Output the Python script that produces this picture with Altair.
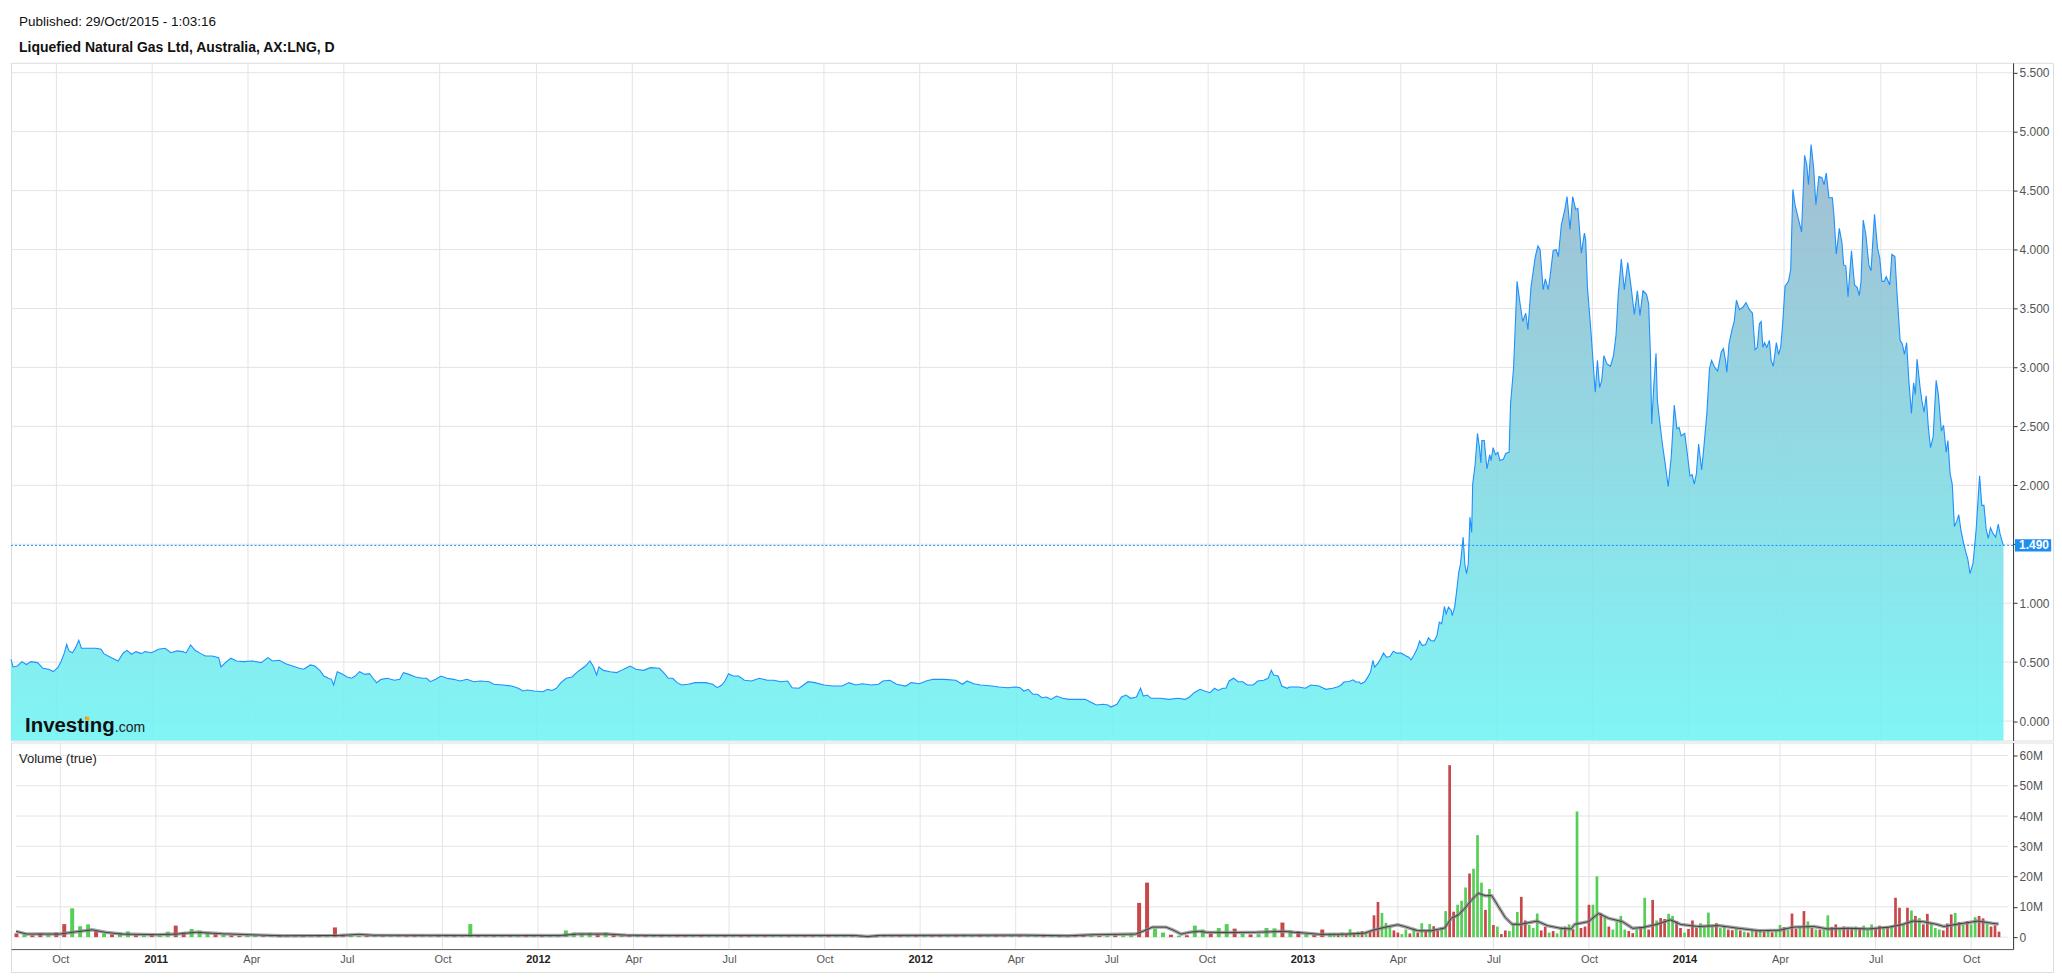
import altair as alt
import pandas as pd

# ---------------- text ----------------
published_text = "Published: 29/Oct/2015 - 1:03:16"
title_text = "Liquefied Natural Gas Ltd, Australia, AX:LNG, D"
volume_text = "Volume (true)"
logo_main = "Investing"
logo_suffix = ".com"

# ---------------- axes ----------------
tick_months = [0, 3, 6, 9, 12, 15, 18, 21, 24, 27, 30, 33, 36, 39, 42, 45, 48, 51, 54, 57, 60]
tick_labels = ["Oct", "2011", "Apr", "Jul", "Oct", "2012", "Apr", "Jul", "Oct", "2012", "Apr",
               "Jul", "Oct", "2013", "Apr", "Jul", "Oct", "2014", "Apr", "Jul", "Oct"]
price_ticks = [0.0, 0.5, 1.0, 1.5, 2.0, 2.5, 3.0, 3.5, 4.0, 4.5, 5.0, 5.5]
vol_ticks = [0, 10, 20, 30, 40, 50, 60]
last_price = 1.49

# ---------------- price (month index, close) ----------------
price_month = [
    -1.39, -1.327, -1.188, -1.048, -0.908, -0.769, -0.559, -0.391, -0.210, -0.070, 0.070, 0.182, 0.279, 0.349,
    0.419, 0.531, 0.629, 0.727, 0.810, 0.978, 1.258, 1.425, 1.509, 1.747, 1.956, 2.124, 2.236, 2.375, 2.515,
    2.683, 2.795, 3.004, 3.214, 3.423, 3.605, 3.801, 3.982, 4.080, 4.220, 4.360, 4.541, 4.681, 4.891, 5.100,
    5.170, 5.310, 5.477, 5.659, 5.869, 6.148, 6.428, 6.637, 6.777, 6.987, 7.196, 7.406, 7.615, 7.755, 7.965,
    8.104, 8.272, 8.384, 8.523, 8.621, 8.691, 8.803, 8.943, 9.110, 9.250, 9.362, 9.502, 9.669, 9.809, 9.921,
    10.033, 10.172, 10.368, 10.591, 10.759, 10.871, 11.039, 11.248, 11.458, 11.598, 11.709, 11.877, 12.045,
    12.226, 12.436, 12.646, 12.855, 13.065, 13.274, 13.554, 13.694, 13.973, 14.252, 14.462, 14.602, 14.742,
    14.951, 15.231, 15.370, 15.510, 15.650, 15.790, 15.957, 16.139, 16.278, 16.418, 16.558, 16.698, 16.796,
    16.907, 16.977, 17.117, 17.327, 17.536, 17.676, 17.816, 17.955, 18.137, 18.375, 18.584, 18.864, 19.003,
    19.143, 19.283, 19.422, 19.562, 19.772, 19.982,
    20.319, 20.532, 20.674, 20.816, 20.915, 21.028, 21.170, 21.341, 21.525, 21.738, 21.993, 22.235, 22.447,
    22.660, 22.873, 23.015, 23.228, 23.327, 23.512, 23.725, 24.008, 24.292, 24.576, 24.789, 25.002, 25.215,
    25.499, 25.711, 25.853, 26.066, 26.279, 26.563, 26.733, 26.989, 27.201, 27.414, 27.769, 28.124, 28.337,
    28.479, 28.692, 28.904, 29.259, 29.472, 29.756, 29.969, 30.139, 30.253, 30.395, 30.537, 30.678, 30.820,
    30.962, 31.104, 31.274, 31.459, 31.672, 31.955, 32.168, 32.381, 32.523, 32.736, 32.878, 32.977, 33.162,
    33.304, 33.446, 33.588, 33.772, 33.900, 33.985, 34.113, 34.226, 34.510, 34.794, 35.078, 35.290, 35.432,
    35.574, 35.759, 35.901, 36.071, 36.213, 36.326, 36.468, 36.568, 36.667, 36.809, 36.951, 37.093, 37.235,
    37.419, 37.561, 37.745, 37.887, 37.986, 38.057, 38.199, 38.313, 38.483, 38.554, 38.838, 39.051, 39.221,
    39.476, 39.689, 39.902, 40.044,
    40.149, 40.255, 40.415, 40.543, 40.628, 40.734, 40.787, 40.894, 41.000, 41.085, 41.160, 41.213, 41.319,
    41.404, 41.489, 41.585, 41.691, 41.798, 41.904, 42.043, 42.170, 42.277, 42.351, 42.436, 42.543, 42.617,
    42.702, 42.808, 42.894, 42.968, 43.074, 43.160, 43.234, 43.309, 43.394, 43.447, 43.521, 43.606, 43.638,
    43.713, 43.766, 43.840, 43.894, 43.979, 44.032, 44.085, 44.138, 44.191, 44.245, 44.277, 44.351, 44.426,
    44.489, 44.532, 44.564, 44.638, 44.723, 44.809, 44.851, 44.915, 44.989, 45.064, 45.128, 45.234, 45.308,
    45.415,
    45.460, 45.555, 45.663, 45.758, 45.840, 45.935, 46.003, 46.098, 46.233, 46.315, 46.383, 46.478, 46.545,
    46.640, 46.708, 46.790, 46.885, 46.953, 47.047, 47.156, 47.224, 47.319, 47.400, 47.495, 47.563, 47.672,
    47.767, 47.807, 47.862, 47.970, 48.106, 48.174, 48.242, 48.309, 48.377, 48.472, 48.581, 48.676, 48.757,
    48.825, 48.920, 49.015, 49.123, 49.218, 49.327, 49.422, 49.503, 49.598, 49.707, 49.775, 49.829, 49.870,
    49.938, 50.005, 50.046, 50.141, 50.209, 50.277, 50.385, 50.480, 50.575, 50.657, 50.725, 50.792, 50.901,
    50.982, 51.064, 51.132, 51.199, 51.267, 51.335, 51.430, 51.498, 51.593, 51.674, 51.742, 51.837, 51.932,
    52.041, 52.109, 52.176, 52.217, 52.285, 52.380, 52.448, 52.516, 52.611, 52.719, 52.814, 52.923, 53.018,
    53.099, 53.167, 53.235, 53.289, 53.343, 53.397, 53.465, 53.547, 53.601, 53.669, 53.764, 53.832, 53.900,
    53.967, 54.035, 54.144, 54.212, 54.280, 54.348, 54.443, 54.551, 54.646, 54.714, 54.768, 54.849, 54.931,
    54.999, 55.094, 55.189, 55.257, 55.324, 55.406, 55.514, 55.569, 55.636, 55.731, 55.813, 55.867, 55.935,
    56.003, 56.111, 56.206, 56.288, 56.355, 56.410, 56.478, 56.559, 56.654, 56.722, 56.831, 56.926, 56.994,
    57.061, 57.129, 57.197, 57.306, 57.374, 57.468, 57.536, 57.631, 57.699, 57.767, 57.835, 57.903, 57.984,
    58.052, 58.106, 58.160, 58.255, 58.309, 58.377, 58.445, 58.513, 58.581, 58.662, 58.757, 58.825, 58.920,
    58.988, 59.069, 59.124, 59.192, 59.259, 59.327, 59.408, 59.463, 59.531, 59.612, 59.707, 59.748, 59.815,
    59.910, 60.005, 60.114, 60.182, 60.250, 60.318, 60.385, 60.453, 60.535, 60.616, 60.697, 60.752, 60.833,
    60.860,
]
price_value = [
    0.524, 0.459, 0.467, 0.504, 0.48, 0.504, 0.496, 0.448, 0.44, 0.42, 0.453, 0.51, 0.58, 0.65,
    0.595, 0.58, 0.623, 0.686, 0.618, 0.618, 0.618, 0.609, 0.572, 0.538, 0.51, 0.58, 0.6, 0.567, 0.589,
    0.572, 0.589, 0.58, 0.609, 0.618, 0.58, 0.595, 0.589, 0.578, 0.646, 0.6, 0.572, 0.552, 0.552, 0.538,
    0.459, 0.496, 0.533, 0.51, 0.504, 0.51, 0.496, 0.538, 0.51, 0.516, 0.487, 0.467, 0.448, 0.44, 0.476,
    0.467, 0.425, 0.382, 0.363, 0.354, 0.306, 0.419, 0.402, 0.374, 0.363, 0.382, 0.419, 0.396, 0.402, 0.363,
    0.326, 0.354, 0.363, 0.346, 0.354, 0.411, 0.396, 0.374, 0.363, 0.363, 0.334, 0.354, 0.382,
    0.363, 0.354, 0.34, 0.354, 0.334, 0.34, 0.334, 0.312, 0.306, 0.297, 0.278, 0.255, 0.263,
    0.255, 0.249, 0.269, 0.26, 0.278, 0.326, 0.363, 0.374, 0.411, 0.44, 0.467, 0.51, 0.467,
    0.391, 0.459, 0.43, 0.419, 0.411, 0.43, 0.448, 0.467, 0.44, 0.43, 0.453, 0.448, 0.411,
    0.363, 0.363, 0.326, 0.306, 0.312, 0.326,
    0.326, 0.312, 0.283, 0.306, 0.34, 0.402, 0.382, 0.382, 0.346, 0.34, 0.363, 0.346, 0.346,
    0.334, 0.34, 0.283, 0.278, 0.297, 0.334, 0.326, 0.306, 0.297, 0.297, 0.326, 0.306, 0.317,
    0.306, 0.312, 0.34, 0.346, 0.312, 0.297, 0.326, 0.317, 0.34, 0.354, 0.354, 0.346, 0.312,
    0.34, 0.317, 0.306, 0.297, 0.289, 0.283, 0.289, 0.283, 0.255, 0.269, 0.227, 0.227, 0.198,
    0.204, 0.184, 0.212, 0.193, 0.184, 0.184, 0.184, 0.156, 0.136, 0.142, 0.136, 0.119, 0.142,
    0.204, 0.221, 0.193, 0.204, 0.278, 0.212, 0.221, 0.193, 0.193, 0.184, 0.193, 0.184, 0.204,
    0.241, 0.269, 0.255, 0.241, 0.278, 0.26, 0.278, 0.278, 0.34, 0.363, 0.334, 0.334, 0.306,
    0.306, 0.34, 0.346, 0.363, 0.43, 0.391, 0.382, 0.297, 0.278, 0.289, 0.289, 0.278, 0.306,
    0.297, 0.269, 0.278, 0.289,
    0.302, 0.331, 0.336, 0.35, 0.331, 0.331, 0.316, 0.331, 0.373, 0.415, 0.514, 0.458, 0.492,
    0.528, 0.576, 0.542, 0.548, 0.593, 0.576, 0.576, 0.556, 0.542, 0.52, 0.556, 0.613, 0.678,
    0.641, 0.65, 0.706, 0.684, 0.678, 0.726, 0.839, 0.825, 0.972, 0.91, 0.966, 0.938, 0.895,
    0.966, 1.08, 1.26, 1.33, 1.56, 1.33, 1.25, 1.33, 1.73, 1.60, 2.01, 2.17, 2.44,
    2.32, 2.19, 2.38, 2.38, 2.14, 2.26, 2.21, 2.32, 2.26, 2.28, 2.21, 2.22, 2.27,
    2.28,
    2.69, 3.00, 3.73, 3.54, 3.39, 3.46, 3.32, 3.68, 3.94, 4.03, 4.00, 3.66, 3.75,
    3.66, 3.80, 3.99, 4.00, 3.94, 4.21, 4.34, 4.45, 4.17, 4.45, 4.34, 4.35, 3.97,
    4.14, 4.08, 3.68, 3.31, 2.79, 3.06, 2.83, 2.89, 3.10, 3.03, 3.01, 3.10, 3.28,
    3.62, 3.92, 3.66, 3.89, 3.70, 3.45, 3.65, 3.44, 3.65, 3.62, 3.54, 3.11, 2.52,
    2.86, 3.12, 2.72, 2.49, 2.34, 2.21, 1.99, 2.24, 2.68, 2.48, 2.49, 2.42, 2.44,
    2.27, 2.08, 2.09, 2.01, 2.10, 2.35, 2.13, 2.32, 2.61, 2.99, 3.06, 3.00, 2.97,
    3.13, 3.16, 3.06, 2.96, 3.20, 3.32, 3.39, 3.57, 3.49, 3.51, 3.55, 3.49, 3.46,
    3.15, 3.17, 3.37, 3.39, 3.17, 3.21, 3.17, 3.23, 3.06, 3.01, 3.21, 3.11, 3.17,
    3.39, 3.69, 3.73, 3.83, 4.51, 4.38, 4.27, 4.15, 4.80, 4.72, 4.55, 4.89, 4.69,
    4.38, 4.62, 4.61, 4.55, 4.65, 4.44, 4.44, 4.27, 3.96, 4.18, 4.06, 3.87, 3.86,
    3.60, 3.99, 3.70, 3.68, 3.61, 3.73, 4.25, 4.13, 3.87, 3.82, 4.30, 4.01, 3.93,
    3.73, 3.73, 3.77, 3.70, 3.96, 3.94, 3.62, 3.23, 3.20, 3.11, 3.21, 2.89, 2.61,
    2.87, 2.77, 3.07, 2.83, 2.72, 2.62, 2.76, 2.49, 2.32, 2.41, 2.89, 2.77, 2.46,
    2.51, 2.28, 2.38, 2.10, 2.01, 1.65, 1.70, 1.75, 1.62, 1.51, 1.41, 1.37, 1.25,
    1.34, 1.62, 2.08, 1.83, 1.83, 1.63, 1.55, 1.64, 1.59, 1.56, 1.67, 1.59, 1.51,
    1.49,
]

# ---------------- volume (millions), g = up day, r = down day ----------------
vol_early_start = -1.375
vol_early_step = 0.25
vol_early = [
    1.2, 0.9, 0.6, 1.3, 0.8, 1.5, 4.3, 9.5, 3.6, 4.2, 2.0, 1.2, 0.9, 1.5, 1.9, 0.7,
    0.6, 0.9, 0.5, 1.8, 3.8, 1.6, 2.7, 2.2, 1.4, 1.2, 0.8, 0.6, 0.4, 0.6, 0.5, 0.4,
    0.5, 0.7, 0.5, 0.6, 0.4, 0.5, 0.6, 0.5, 3.2, 0.8, 0.5, 0.4, 0.5, 0.6, 0.4, 0.5,
    0.6, 0.4, 0.5, 0.6, 0.4, 0.5, 0.6, 0.5, 0.5, 4.3, 0.6, 0.5, 0.4, 0.6, 0.5, 0.4,
    0.6, 0.5, 0.4, 0.6, 0.5, 2.2, 1.5, 1.2, 1.4, 1.0, 1.5, 0.8, 0.6, 0.5, 0.7, 0.5,
    0.6, 0.5, 0.4, 0.6, 0.5, 0.4, 0.6, 0.5, 0.4, 0.5, 0.5, 0.4, 0.6, 0.5, 0.4, 0.5,
    0.5, 0.4, 0.6, 0.5, 0.4, 0.5, 0.5, 0.6, 0.5, 0.4, 0.5, 0.4, 0.6, 0.5, 0.4, 0.5,
    0.4, 0.5, 0.6, 0.4, 0.5, 0.4, 0.5, 0.6, 0.4, 0.5, 0.4, 0.5, 0.3, 0.4, 0.5, 0.4,
    0.4, 0.6, 0.5, 0.4, 0.5, 0.4, 0.6, 0.5, 0.4, 0.5, 0.6, 0.5, 0.8, 11.3, 18.0, 2.8,
    1.5, 0.8, 0.5, 0.6, 3.8, 2.5, 1.2, 3.0, 4.3, 2.8, 1.2, 0.9, 1.0, 3.0, 2.9, 4.8,
    2.2, 2.0, 1.0, 0.8, 2.5, 1.2,
]
vol_early_dir = (
    "rgrr" "grrg" "ggrg" "rggr" "grgg" "rrgg" "grgr" "rggr" "grgg" "rgrg" "rrgg" "rgrg" "grrg"
    "grgr" "ggrg" "rgrg" "rgrg" "gggg" "grgr" "grgr" "grgr" "rgrg" "grgr" "rgrg" "grgr" "rgrg"
    "grgr" "rggr" "grgr" "rgrg" "grgr" "rgrg" "grgr" "grrg" "rgrg" "grrg" "grgr" "ggrg" "grgr"
    "gggr" "grgr" "rg"
)
vol_late_start = 40.0
vol_late_step = 0.125
vol_late = [
    1.2, 1.0, 1.5, 1.1, 2.6, 1.3, 1.8, 2.0,
    1.5, 1.8, 7.2, 11.6, 8.0, 4.7, 3.5, 2.2,
    1.5, 1.0, 2.5, 1.2, 2.8, 1.5, 4.6, 2.0,
    4.3, 3.6, 2.2, 3.2, 8.6, 56.8, 8.4, 10.7,
    12.0, 16.4, 21.0, 22.6, 33.7, 18.0, 9.0, 15.9,
    4.0, 3.5, 1.0, 2.2, 2.0, 4.4, 8.3, 13.3,
    5.5, 4.0, 3.0, 7.8, 2.2, 3.4, 1.5, 2.0,
    1.2, 3.3, 3.5, 4.2, 2.6, 41.5, 3.0, 3.5,
    10.7, 10.7, 20.1, 8.0, 6.5, 3.5, 2.5, 5.0,
    7.0, 2.5, 2.0, 1.3, 2.5, 3.2, 13.0, 2.5,
    12.3, 5.5, 6.3, 6.0, 7.7, 7.0, 5.3, 3.0,
    1.5, 2.7, 5.5, 3.0, 4.6, 3.5, 8.1, 3.8,
    4.6, 3.0, 3.5, 2.5, 2.3, 2.8, 2.2, 1.8,
    1.5, 2.4, 2.0, 2.5, 1.8, 2.2, 1.6, 2.0,
    4.0, 3.3, 2.3, 7.8, 2.8, 3.5, 8.6, 5.2,
    3.0, 2.5, 2.5, 2.5, 7.2, 3.4, 4.2, 2.8,
    3.5, 3.2, 3.2, 3.5, 3.0, 3.8, 2.5, 4.2,
    3.0, 3.8, 3.4, 3.5, 3.6, 13.0, 9.7, 4.0,
    9.7, 8.8, 7.0, 6.3, 4.2, 7.7, 4.4, 3.0,
    2.5, 2.2, 4.5, 7.5, 8.0, 5.0, 4.0, 5.3,
    4.2, 6.6, 7.0, 6.2, 4.3, 3.5, 3.9, 1.8,
]
vol_late_dir = (
    "grgrgrgr" "grrrgggr" "rggrgrgr" "grrggrrg" "ggrgggrg" "rgrrgggr" "rgggrrgr" "ggrgrgrr"
    "rggrgrgg" "ggrrgrgr" "rgrrggrr" "grrrgggg" "rggrrgrg" "rgrgrgrg" "grgrrgrg" "rgrggrrg"
    "rrrgrggg" "rrgrgrrg" "rgrgrrgg" "grrrgrgr" "ggrrgrrr"
)

# ---------------- volume moving average ----------------
ma_month = [
    -1.39, -1.043, -0.02, 0.389, 1.002, 1.411, 1.922, 3.047, 3.661, 4.274, 5.092, 5.910, 6.933, 8.773,
    9.387, 9.796, 12.659, 15.726, 16.237, 17.157, 17.771, 18.793, 24.929, 25.338, 25.747, 30.246,
    31.661, 32.399, 33.770, 34.033, 34.297, 34.719, 34.930, 35.193, 35.457, 35.773, 35.984, 36.722,
    37.566, 38.410, 38.726, 39.148, 39.570, 40.413, 40.940, 41.257, 41.573, 41.995, 42.206, 42.628,
    43.049, 43.471, 43.682, 43.893, 44.104, 44.315, 44.526, 44.737, 44.948, 45.158, 45.369, 45.580,
    45.830, 46.369, 46.691, 47.120, 47.442, 47.549, 47.979, 48.301, 48.623, 49.052, 49.374, 49.696,
    50.125, 50.554, 50.876, 51.413, 52.057, 52.701, 53.345, 53.989, 54.418, 55.062, 55.492, 56.136,
    56.780, 57.424, 57.853, 58.175, 58.497, 58.926, 59.141, 59.409, 59.785, 60.214, 60.643, 60.860,
]
ma_value = [
    1.9, 1.0, 1.0, 1.6, 2.4, 1.6, 1.0, 0.8, 1.0, 1.6, 1.1, 0.8, 0.45, 0.55,
    0.9, 0.65, 0.55, 0.55, 1.0, 1.0, 0.65, 0.55, 0.55, 0.2, 0.55, 0.65,
    0.44, 0.77, 1.0, 2.1, 3.3, 3.3, 2.4, 1.0, 1.6, 1.9, 1.6, 1.5,
    1.6, 1.9, 1.6, 1.3, 0.9, 1.0, 1.3, 2.4, 3.2, 4.1, 3.5, 2.1,
    2.1, 3.0, 6.3, 7.3, 9.5, 12.3, 14.5, 13.7, 13.7, 10.1, 6.5, 4.3,
    4.2, 5.3, 3.8, 2.9, 2.7, 4.2, 5.1, 7.8, 6.2, 5.1, 2.9, 3.2,
    4.2, 5.7, 4.2, 3.5, 3.8, 2.9, 2.1, 2.3, 3.3, 3.5, 2.7, 2.9,
    2.7, 3.3, 4.2, 5.3, 5.1, 4.2, 3.5, 4.0, 4.6, 5.3, 4.6, 4.3,
]

# ---------------- layout / style ----------------
FONT = "Arial, 'Liberation Sans', sans-serif"
W = 2046
H_HEAD, H_PRICE, H_VOL = 53, 679, 230
X_RANGE = 2006
V_RANGE = 207
X_MIN, X_AXIS = -1.39, 61.16
P_MIN, P_MAX = -0.165, 5.584
V_MIN, V_MAX = -3.96, 64.29
GRID = "#e4e4e4"
AXC = "#333333"
LBL = "#555555"
LINE = "#1e90ff"
GREEN, RED = "#55cf55", "#c8474a"

price_df = pd.DataFrame({"m": price_month, "v": price_value})
early_df = pd.DataFrame({
    "m": [vol_early_start + i * vol_early_step for i in range(len(vol_early))],
    "v": vol_early, "d": list(vol_early_dir)})
late_df = pd.DataFrame({
    "m": [vol_late_start + i * vol_late_step for i in range(len(vol_late))],
    "v": vol_late, "d": list(vol_late_dir)})
ma_df = pd.DataFrame({"m": ma_month, "v": ma_value})
ptick_df = pd.DataFrame({"v": price_ticks})
vtick_df = pd.DataFrame({"v": vol_ticks})
mtick_df = pd.DataFrame({"m": tick_months})
last_df = pd.DataFrame({"v": [last_price], "t": [f"{last_price:.3f}"]})

xs = alt.Scale(domain=[X_MIN, X_AXIS], range=[0, X_RANGE], nice=False, zero=False)
ys = alt.Scale(domain=[P_MIN, P_MAX], nice=False, zero=False)
vs = alt.Scale(domain=[V_MIN, V_MAX], range=[V_RANGE, 0], nice=False, zero=False)

label_expr = "[" + ",".join("'%s'" % s for s in tick_labels) + "][round(datum.value / 3)]"

# ---------------- header ----------------
head_a = alt.Chart(pd.DataFrame({"t": [published_text]})).mark_text(
    align="left", baseline="middle", fontSize=13.5, font=FONT, color="#111111"
).encode(x=alt.value(8), y=alt.value(13), text="t:N")
head_b = alt.Chart(pd.DataFrame({"t": [title_text]})).mark_text(
    align="left", baseline="middle", fontSize=14, fontWeight="bold", font=FONT, color="#111111"
).encode(x=alt.value(8), y=alt.value(39), text="t:N")
header = alt.layer(head_a, head_b).properties(
    width=W, height=H_HEAD, view=alt.ViewBackground(strokeOpacity=0))

# ---------------- price panel ----------------
x_price_axis = alt.Axis(values=tick_months, grid=True, gridColor=GRID, labels=False, ticks=False,
                        domain=False, title=None)
y_price_axis = alt.Axis(orient="right", offset=-40, values=price_ticks, tickCount=12, format=".3f",
                        grid=False, domainColor=AXC, tickColor=AXC, tickSize=4, labelColor=LBL,
                        labelFontSize=12, labelFont=FONT, labelPadding=2, labelOverlap=False, title=None)


def px(field="m"):
    return alt.X(field + ":Q", scale=xs, axis=x_price_axis, title=None)


def py(field="v"):
    return alt.Y(field + ":Q", scale=ys, axis=y_price_axis, title=None)


p_hgrid = alt.Chart(ptick_df).mark_rule(color=GRID, strokeWidth=1).encode(
    y=py(), x=alt.datum(X_MIN), x2=alt.datum(X_AXIS))
p_area = alt.Chart(price_df).mark_area(
    color=alt.Gradient(gradient="linear",
                       stops=[alt.GradientStop(color="#97b5cc", offset=0),
                              alt.GradientStop(color="#6ff4f4", offset=1)],
                       x1=0, x2=0, y1=0, y2=1),
    opacity=0.88
).encode(x=px(), y=py(), y2=alt.datum(P_MIN))
p_line = alt.Chart(price_df).mark_line(color=LINE, strokeWidth=1.1).encode(x=px(), y=py())
p_last = alt.Chart(last_df).mark_rule(color=LINE, strokeDash=[2, 2], strokeWidth=1).encode(
    y=py(), x=alt.datum(X_MIN), x2=alt.datum(X_AXIS))
p_tag = alt.Chart(last_df).transform_calculate(
    top="datum.v + 0.052", bot="datum.v - 0.052"
).mark_rect(color="#1b8ef2").encode(
    y=py("top"), y2="bot:Q",
    x=alt.datum(X_AXIS + 0.06), x2=alt.datum(X_AXIS + 1.19))
p_tagtext = alt.Chart(last_df).mark_text(
    align="left", baseline="middle", dx=6, fontSize=12, fontWeight="bold", font=FONT, color="white"
).encode(y=py(), x=alt.datum(X_AXIS), text="t:N")
logo_a = alt.Chart(pd.DataFrame({"t": [logo_main]})).mark_text(
    align="left", baseline="alphabetic", fontSize=20.5, fontWeight="bold", font=FONT, color="#111111"
).encode(x=alt.value(14), y=alt.value(670.7), text="t:N")
logo_b = alt.Chart(pd.DataFrame({"t": [logo_suffix]})).mark_text(
    align="left", baseline="alphabetic", fontSize=14, font=FONT, color="#222222"
).encode(x=alt.value(104), y=alt.value(670.7), text="t:N")
logo_c = alt.Chart(pd.DataFrame({"t": [logo_main]})).mark_square(
    color="#f5a623", size=16, opacity=1
).encode(x=alt.value(76.5), y=alt.value(657))

price_panel = alt.layer(p_hgrid, p_area, p_line, p_last, p_tag, p_tagtext, logo_a, logo_b, logo_c
                        ).properties(width=W, height=H_PRICE)

# ---------------- volume panel ----------------
x_vol_axis = alt.Axis(orient="bottom", offset=-23, values=tick_months, labelExpr=label_expr, grid=False,
                      ticks=False, domainColor="#555555", labelFontSize=11, labelFont=FONT, labelPadding=4,
                      labelFlush=False, labelOverlap=False,
                      labelFontWeight=alt.condition("datum.value % 12 == 3", alt.value("bold"), alt.value("normal")),
                      labelColor=alt.condition("datum.value % 12 == 3", alt.value("#222222"), alt.value("#555555")),
                      title=None)
y_vol_axis = alt.Axis(orient="right", offset=-40, values=vol_ticks, tickCount=7,
                      labelExpr="datum.value == 0 ? '0' : datum.value + 'M'", grid=False,
                      domainColor=AXC, tickColor=AXC, tickSize=4, labelColor=LBL, labelFontSize=12,
                      labelFont=FONT, labelPadding=2, labelOverlap=False, title=None)


def vx(field="m"):
    return alt.X(field + ":Q", scale=xs, axis=x_vol_axis, title=None)


def vy(field="v"):
    return alt.Y(field + ":Q", scale=vs, axis=y_vol_axis, title=None)


color_enc = alt.Color("d:N", scale=alt.Scale(domain=["g", "r"], range=[GREEN, RED]), legend=None)

v_hgrid = alt.Chart(vtick_df).mark_rule(color=GRID, strokeWidth=1).encode(
    y=vy(), x=alt.datum(X_MIN), x2=alt.datum(X_AXIS))
v_vgrid = alt.Chart(mtick_df).mark_rule(color=GRID, strokeWidth=1).encode(
    x=vx(), y=alt.datum(V_MIN), y2=alt.datum(V_MAX))
v_early = alt.Chart(early_df).mark_bar(size=4).encode(
    x=vx(), y=vy(), y2=alt.datum(0), color=color_enc)
v_late = alt.Chart(late_df).mark_bar(size=2.7).encode(
    x=vx(), y=vy(), y2=alt.datum(0), color=color_enc)
v_ma_wide = alt.Chart(ma_df).mark_line(color="#8a8a8a", strokeWidth=3.5, opacity=0.75).encode(
    x=vx(), y=vy())
v_ma_thin = alt.Chart(ma_df).mark_line(color="#2a2a2a", strokeWidth=1, opacity=0.8).encode(
    x=vx(), y=vy())
v_label = alt.Chart(pd.DataFrame({"t": [volume_text]})).mark_text(
    align="left", baseline="middle", fontSize=13, font=FONT, color="#222222"
).encode(x=alt.value(8), y=alt.value(17), text="t:N")

vol_panel = alt.layer(v_hgrid, v_vgrid, v_early, v_late, v_ma_wide, v_ma_thin, v_label
                      ).properties(width=W, height=H_VOL)

chart = alt.vconcat(header, price_panel, vol_panel, spacing=0).properties(
    padding=0, background="white"
).configure_view(stroke="#222222", strokeWidth=1).configure(font=FONT)

chart.save("out.html", embed_options={"renderer": "svg", "actions": False})
